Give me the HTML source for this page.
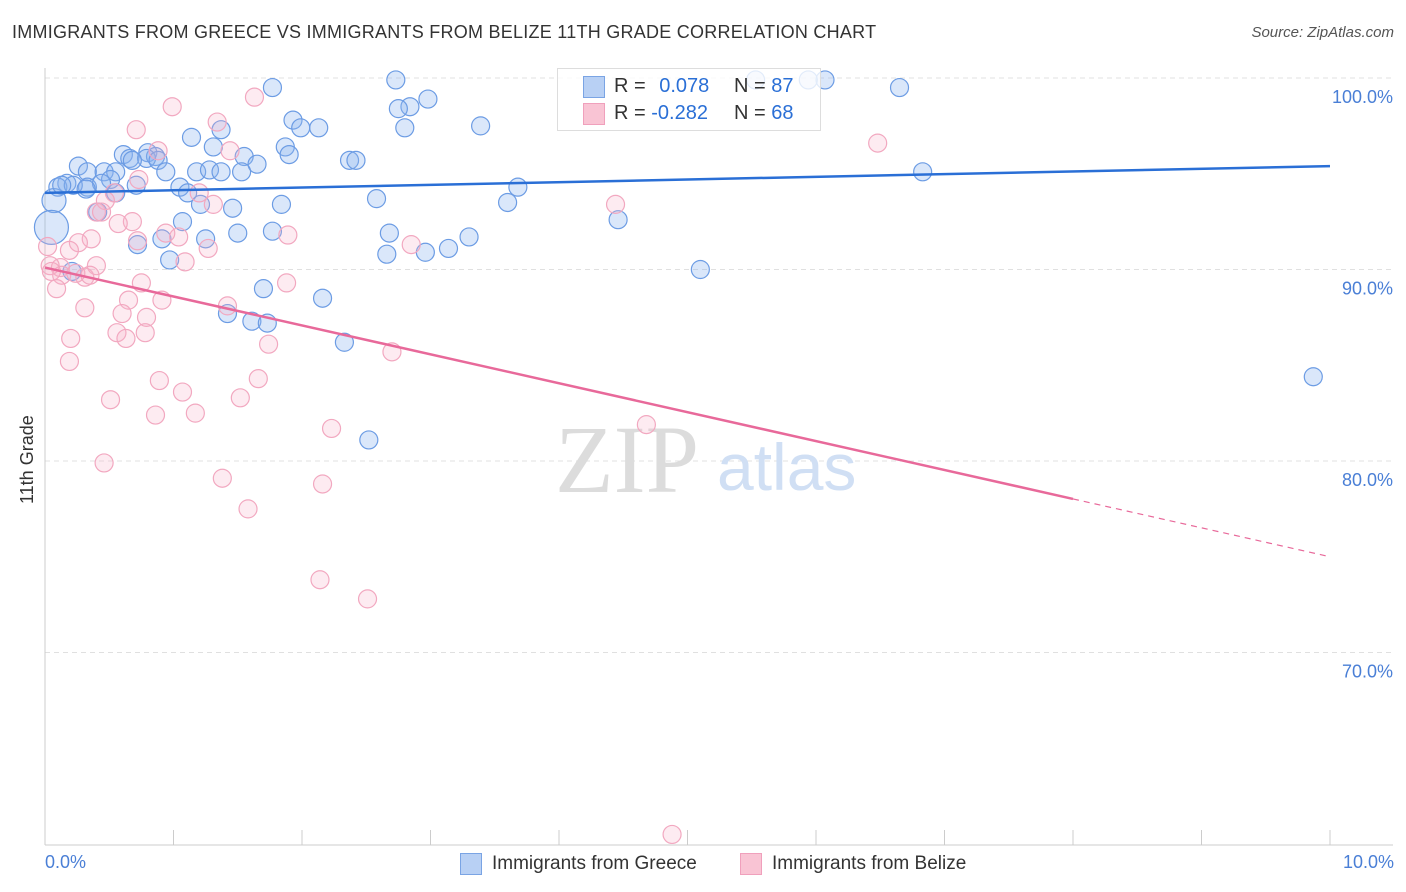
<!DOCTYPE html>
<html><head><meta charset="utf-8"><style>
body{margin:0;background:#fff;font-family:"Liberation Sans",sans-serif;}
#wrap{position:relative;width:1406px;height:892px;overflow:hidden;}
.t{position:absolute;white-space:nowrap;}
</style></head><body>
<div id="wrap">
<div class="t" style="left:12px;top:22px;font-size:18px;color:#333;letter-spacing:0.25px;">IMMIGRANTS FROM GREECE VS IMMIGRANTS FROM BELIZE 11TH GRADE CORRELATION CHART</div>
<div class="t" style="right:12px;top:24px;font-size:15px;color:#555;font-style:italic;">Source: ZipAtlas.com</div>
<svg id="plot" width="1406" height="892" style="position:absolute;left:0;top:0"></svg>
</div>
<script>
const blueX=[1.77,2.73,2.84,2.75,2.98,2.80,3.39,5.53,6.07,5.94,6.65,1.93,1.99,2.13,1.37,1.14,1.87,1.31,1.90,1.55,1.65,0.61,0.80,0.66,0.86,0.79,0.88,0.94,1.18,1.28,1.37,1.53,2.37,2.42,0.26,0.33,0.46,0.55,0.51,0.17,0.10,0.33,0.44,0.55,0.71,1.05,1.11,3.68,2.58,3.60,6.83,0.07,0.05,0.41,1.07,1.21,1.46,1.84,0.72,0.91,1.25,1.50,1.77,2.68,3.30,3.14,2.96,2.66,0.97,0.21,5.10,1.70,2.16,1.42,1.61,1.73,2.33,9.87,2.52,4.46,0.22,0.32,0.68,0.13];
const blueY=[99.5,99.9,98.5,98.4,98.9,97.4,97.5,99.9,99.9,99.9,99.5,97.8,97.4,97.4,97.3,96.9,96.4,96.4,96.0,95.9,95.5,96.0,96.1,95.8,95.9,95.8,95.7,95.1,95.1,95.2,95.1,95.1,95.7,95.7,95.4,95.1,95.1,95.1,94.7,94.5,94.3,94.3,94.5,94.0,94.4,94.3,94.0,94.3,93.7,93.5,95.1,93.6,92.2,93.0,92.5,93.4,93.2,93.4,91.3,91.6,91.6,91.9,92.0,91.9,91.7,91.1,90.9,90.8,90.5,89.9,90.0,89.0,88.5,87.7,87.3,87.2,86.2,84.4,81.1,92.6,94.4,94.2,95.7,94.4];
const blueR=[9,9,9,9,9,9,9,9,9,9,9,9,9,9,9,9,9,9,9,9,9,9,9,9,9,9,9,9,9,9,9,9,9,9,9,9,9,9,9,9,9,9,9,9,9,9,9,9,9,9,9,12,17,9,9,9,9,9,9,9,9,9,9,9,9,9,9,9,9,9,9,9,9,9,9,9,9,9,9,9,9,9,9,9];
const pinkX=[1.63,0.99,1.34,0.71,0.88,1.44,0.54,1.20,1.31,0.73,0.47,0.40,0.44,0.68,0.57,1.04,0.94,0.36,0.26,0.19,1.27,0.72,1.09,0.40,0.12,0.04,0.13,0.31,0.24,0.35,0.09,0.75,1.88,2.85,1.89,0.31,0.65,0.91,1.42,0.60,0.79,0.56,0.63,0.78,1.74,0.20,0.19,2.70,0.89,1.66,0.51,1.07,0.86,1.17,1.52,2.23,4.68,0.46,1.38,2.16,1.58,2.14,2.51,4.88,6.48,4.44,0.02,0.05];
const pinkY=[99.0,98.5,97.7,97.3,96.2,96.2,94.0,94.0,93.4,94.7,93.6,93.0,93.0,92.5,92.4,91.7,91.9,91.6,91.4,91.0,91.1,91.5,90.4,90.2,90.1,90.2,89.7,89.6,89.8,89.7,89.0,89.3,89.3,91.3,91.8,88.0,88.4,88.4,88.1,87.7,87.5,86.7,86.4,86.7,86.1,86.4,85.2,85.7,84.2,84.3,83.2,83.6,82.4,82.5,83.3,81.7,81.9,79.9,79.1,78.8,77.5,73.8,72.8,60.5,96.6,93.4,91.2,89.9];
const blueTrend=[94.0,95.4];
const pinkTrend=[90.1,75.0];
const yTicks=[100,90,80,70];
const yTickLabels=["100.0%","90.0%","80.0%","70.0%"];
const xTicks=[0,1,2,3,4,5,6,7,8,9,10];

const NS="http://www.w3.org/2000/svg";
const svg=document.getElementById('plot');
const X0=45,X1=1330,Y100=78,YPER=19.15;
function sx(v){return X0+(X1-X0)*v/10;}
function sy(v){return Y100+(100-v)*YPER;}
function mk(tag,attrs){const e=document.createElementNS(NS,tag);for(const k in attrs)e.setAttribute(k,attrs[k]);svg.appendChild(e);return e;}

yTicks.forEach((v,i)=>{
  const g=mk('line',{x1:X0,x2:1393,y1:sy(v),y2:sy(v),stroke:'#e0e0e0','stroke-dasharray':'5,4'});
  
  
  const t=mk('text',{x:1393,y:sy(v)+25,'text-anchor':'end','font-size':18,fill:'#4a7fd6','font-family':'Liberation Sans, sans-serif'});
  t.textContent=yTickLabels[i];
  
  
});
const ax=mk('line',{x1:X0,x2:X0,y1:68,y2:845,stroke:'#ccc'});


const bx=mk('line',{x1:X0,x2:1393,y1:845,y2:845,stroke:'#ccc'});


xTicks.forEach(v=>{
  const l=mk('line',{x1:sx(v),x2:sx(v),y1:830,y2:845,stroke:'#ccc'});
  
  
});

const w1=mk('text',{x:555,y:492,'font-size':96,fill:'#dcdcdc','font-family':'Liberation Serif, serif'});
w1.textContent='ZIP';


const w2=mk('text',{x:717,y:490,'font-size':66,fill:'#d0dff4','font-family':'Liberation Sans, sans-serif'});
w2.textContent='atlas';



blueX.forEach((v,i)=>{
  const c=mk('circle',{cx:sx(v),cy:sy(blueY[i]),r:blueR[i],fill:'rgba(140,180,240,0.32)',stroke:'#6c9ce4','stroke-width':1.2});
  
  
});
pinkX.forEach((v,i)=>{
  const c=mk('circle',{cx:sx(v),cy:sy(pinkY[i]),r:9,fill:'rgba(248,175,200,0.25)',stroke:'#f2a8c0','stroke-width':1.2});
  
  
});
const bl=mk('line',{x1:sx(0),y1:sy(blueTrend[0]),x2:sx(10),y2:sy(blueTrend[1]),stroke:'#2a6fd6','stroke-width':2.5});


const pm=pinkTrend[0]+(pinkTrend[1]-pinkTrend[0])*0.8;
const pl=mk('line',{x1:sx(0),y1:sy(pinkTrend[0]),x2:sx(8),y2:sy(pm),stroke:'#e8699a','stroke-width':2.5});


const pd=mk('line',{x1:sx(8),y1:sy(pm),x2:sx(10),y2:sy(pinkTrend[1]),stroke:'#e8699a','stroke-width':1.2,'stroke-dasharray':'6,5'});


</script>
<div class="t" style="transform:rotate(-90deg);transform-origin:0 0;font-size:18px;color:#333;left:17px;top:504px;">11th Grade</div>
<div class="t" style="left:45px;top:852px;font-size:18px;color:#4a7fd6;">0.0%</div>
<div class="t" style="right:12px;top:852px;font-size:18px;color:#4a7fd6;">10.0%</div>
<div style="position:absolute;left:557px;top:68px;width:262px;height:61px;border:1px solid #ddd;background:rgba(255,255,255,0.8);font-size:20px;">
  <div style="position:absolute;left:25px;top:7px;width:20px;height:20px;background:#b8d0f4;border:1px solid #7aa4e4;"></div>
  <div style="position:absolute;left:25px;top:34px;width:20px;height:20px;background:#f9c4d4;border:1px solid #f0a0bc;"></div>
  <div class="t" style="left:56px;top:6px;color:#333;">R = <span style="color:#2a6fd6;margin-left:8px">0.078</span></div>
  <div class="t" style="left:176px;top:6px;color:#333;">N = <span style="color:#2a6fd6">87</span></div>
  <div class="t" style="left:56px;top:33px;color:#333;">R = <span style="color:#2a6fd6">-0.282</span></div>
  <div class="t" style="left:176px;top:33px;color:#333;">N = <span style="color:#2a6fd6">68</span></div>
</div>
<div style="position:absolute;left:460px;top:853px;width:20px;height:20px;background:#b8d0f4;border:1px solid #7aa4e4;"></div>
<div class="t" style="left:492px;top:853px;font-size:19px;color:#333;">Immigrants from Greece</div>
<div style="position:absolute;left:740px;top:853px;width:20px;height:20px;background:#f9c4d4;border:1px solid #f0a0bc;"></div>
<div class="t" style="left:772px;top:853px;font-size:19px;color:#333;">Immigrants from Belize</div>
</body></html>
